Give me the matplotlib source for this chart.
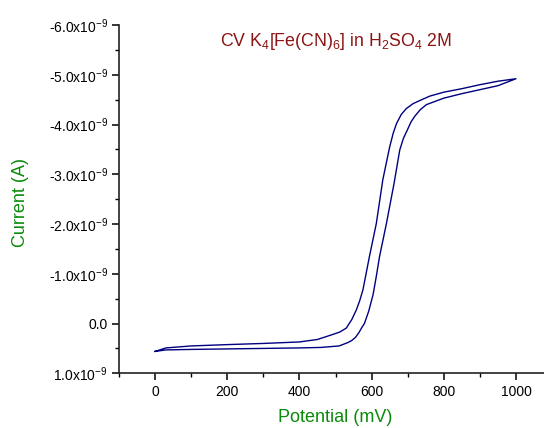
import matplotlib
matplotlib.use("Agg")
import matplotlib.pyplot as plt
from matplotlib.ticker import MultipleLocator, FuncFormatter

# CV data: potential in mV, current in units of 1e-9 A
fwd_potential = [0, 30, 100, 200, 300, 400, 460, 510, 535, 545, 555, 565, 572, 580,
                 592, 604, 613, 622, 641, 662, 678, 688, 699, 709, 720, 735, 752, 800,
                 850, 900, 950, 1000]
fwd_current = [0.56, 0.53, 0.52, 0.51, 0.50, 0.49, 0.48, 0.45, 0.38, 0.34, 0.28,
               0.18, 0.09, 0.0, -0.25, -0.58, -0.95, -1.35, -2.01, -2.81, -3.49,
               -3.72, -3.89, -4.05, -4.17, -4.30, -4.40, -4.53, -4.62, -4.70, -4.78,
               -4.92]
rev_potential = [1000, 950, 900, 850, 800, 761, 733, 715, 696, 682, 669, 660, 650,
                 631, 613, 594, 576, 567, 558, 545, 530, 512, 492, 450, 400, 300,
                 214, 100, 30, 0]
rev_current = [-4.92, -4.87, -4.80, -4.72, -4.65, -4.57, -4.48, -4.42, -4.32, -4.20,
               -4.02, -3.83, -3.55, -2.89, -2.01, -1.35, -0.68, -0.46, -0.28, -0.08,
               0.09, 0.17, 0.22, 0.32, 0.37, 0.40, 0.42, 0.45, 0.49, 0.56]

plt.rcParams['font.family'] = ['Liberation Sans', 'DejaVu Sans']
plt.rcParams['mathtext.fontset'] = 'custom'
plt.rcParams['mathtext.rm'] = 'Liberation Sans'
plt.rcParams['mathtext.it'] = 'Liberation Sans:italic'
plt.rcParams['mathtext.bf'] = 'Liberation Sans:bold'

fig = plt.figure(figsize=(5.44, 4.28), dpi=100)
ax = fig.add_axes([0.2188, 0.1278, 0.796, 0.8138])

ax.plot(fwd_potential + rev_potential, fwd_current + rev_current,
        color='#000080', linewidth=1.0)

ax.set_xlim(-100, 1100)
ax.set_ylim(1.0, -6.0)

ax.xaxis.set_major_locator(MultipleLocator(200))
ax.xaxis.set_minor_locator(MultipleLocator(100))
ax.yaxis.set_major_locator(MultipleLocator(1.0))
ax.yaxis.set_minor_locator(MultipleLocator(0.5))


def ylab(v, pos):
    if abs(v) < 1e-9:
        return "0.0"
    return "%.1fx10$^{-9}$" % v


ax.yaxis.set_major_formatter(FuncFormatter(ylab))

for s in ['top', 'right']:
    ax.spines[s].set_visible(False)
for s in ['left', 'bottom']:
    ax.spines[s].set_linewidth(1.2)
    ax.spines[s].set_color('#222222')

ax.tick_params(which='major', direction='out', length=5, width=1.1, labelsize=10)
ax.tick_params(which='minor', direction='out', length=3, width=1.0)
ax.tick_params(axis='y', pad=3)

fig.text(0.618, 0.902, r"CV K$_4$[Fe(CN)$_6$] in H$_2$SO$_4$ 2M",
         color='#8b1414', fontsize=12.8, ha='center', va='center')
fig.text(0.037, 0.528, "Current (A)", color='#0a8a0a', fontsize=13,
         rotation=90, ha='center', va='center')
fig.text(0.616, 0.025, "Potential (mV)", color='#0a8a0a', fontsize=13,
         ha='center', va='center')

fig.savefig("out.png", dpi=100)
